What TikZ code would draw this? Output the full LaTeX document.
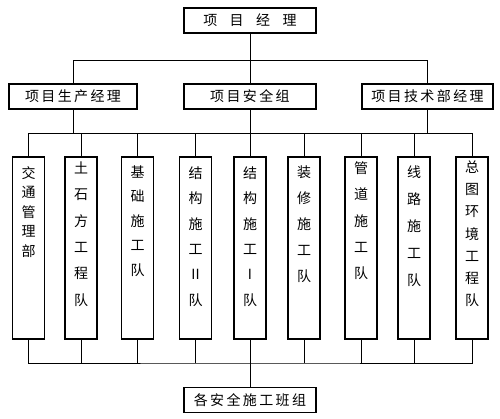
\documentclass[tikz,border=0pt]{standalone}
\usepackage{fontspec}
\newfontfamily\cjk{Noto Sans CJK SC}
\newfontfamily\cjksp[LetterSpace=17]{Noto Sans CJK SC}
\newcommand\vlabel[5]{\foreach \c [count=\i from 0] in {#4} \node[vch] (#5-\i) at (#1,#2+\i*#3) {\c};}
\begin{document}
\begin{tikzpicture}[x=1pt,y=-1pt,
  hbox/.style={draw, line width=1.8pt, inner sep=0pt, minimum height=25pt, font=\cjksp\fontsize{14}{14}\selectfont},
  vbox/.style={draw, line width=1.8pt, minimum width=32pt, minimum height=182pt, inner sep=0pt},
  vch/.style={font=\cjk\fontsize{14}{14}\selectfont, inner sep=0pt},
  conn/.style={line width=0.9pt}]
\useasboundingbox (0,0) rectangle (500,419);
% top
\node[hbox, minimum width=132pt, font=\cjk\fontsize{14}{14}\selectfont] (pm) at (250,20.5) {项\hspace{12.5pt}目\hspace{12.5pt}经\hspace{12.5pt}理};
\node[hbox, minimum width=128pt] (prod) at (73,96.5) {项目生产经理};
\node[hbox, minimum width=132pt] (safe) at (250,96.5) {项目安全组};
\node[hbox, minimum width=131pt] (tech) at (427.5,96.5) {项目技术部经理};
\node[hbox, minimum width=132pt] (team) at (250,400) {各安全施工班组};
% vertical boxes
\node[vbox] (b1) at (28.5,248) {};
\node[vbox] (b2) at (81,248) {};
\node[vbox] (b3) at (137.5,248) {};
\node[vbox] (b4) at (195.5,248) {};
\node[vbox] (b5) at (250,248) {};
\node[vbox] (b6) at (304,248) {};
\node[vbox] (b7) at (361,248) {};
\node[vbox] (b8) at (414,248) {};
\node[vbox] (b9) at (472,248) {};
\vlabel{28.5}{173}{19.5}{交,通,管,理,部}{t1}
\vlabel{81}{168}{26.4}{土,石,方,工,程,队}{t2}
\vlabel{137.5}{172}{24.5}{基,础,施,工,队}{t3}
\vlabel{195.5}{173}{25.4}{结,构,施,工,II,队}{t4}
\vlabel{250}{173}{25.4}{结,构,施,工,I,队}{t5}
\vlabel{304}{172}{26}{装,修,施,工,队}{t6}
\vlabel{361}{168}{26.4}{管,道,施,工,队}{t7}
\vlabel{414}{172}{27}{线,路,施,工,队}{t8}
\vlabel{472}{167.5}{22.2}{总,图,环,境,工,程,队}{t9}
% buses
\coordinate (busA) at (250,60.3);
\coordinate (busB) at (250,133.5);
\coordinate (busC) at (250,363);
\draw[conn] (pm.south) -- (busA);
\draw[conn] (prod.north) |- (busA) -| (tech.north);
\draw[conn] (busA) -- (safe.north);
\draw[conn] (prod.south) -- (prod.south |- busB);
\draw[conn] (safe.south) -- (busB);
\draw[conn] (tech.south) -- (tech.south |- busB);
\draw[conn] (b1.north) |- (busB) -| (b9.north);
\draw[conn] (b1.south) |- (busC) -| (b9.south);
\foreach \k in {2,...,8} {
  \draw[conn] (b\k.north) -- (b\k.north |- busB);
  \draw[conn] (b\k.south) -- (b\k.south |- busC);
}
\draw[conn] (busC) -- (team.north);
\end{tikzpicture}
\end{document}
